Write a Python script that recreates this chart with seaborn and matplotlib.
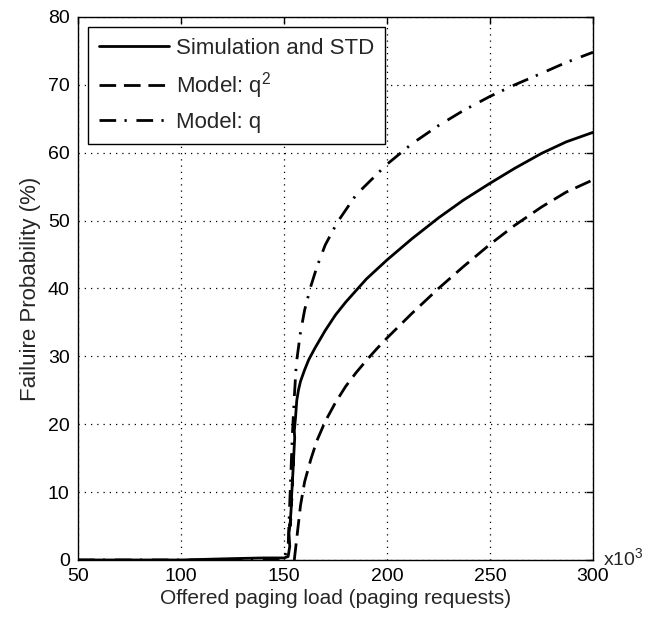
import numpy as np
import pandas as pd
import seaborn as sns
from matplotlib import pyplot as plt
from matplotlib import transforms

# Values (x in thousands of paging requests, y in %)
sim_x = [50, 100, 125, 140, 150, 152, 152.8, 152.4, 153.3, 152.9, 153.8, 153.4, 154.2, 154.0, 154.7,
         154.5, 155.2, 155.0, 155.6, 156.2, 157, 158, 160, 162, 165, 170, 175, 180, 190, 200,
         212, 225, 237, 250, 262, 275, 287, 300]
sim_y = [0, 0, 0.2, 0.3, 0.3, 0.5, 2, 4, 6, 5, 9, 8, 12, 11, 15,
         14, 18, 19, 21, 23.5, 25, 26.3, 28, 29.5, 31.2, 33.8, 36.1, 38, 41.4, 44.2,
         47.3, 50.4, 53, 55.5, 57.7, 59.9, 61.6, 63]

q2_x = [155, 156.5, 158, 160, 163, 166, 170, 175, 180, 185, 190, 195, 200, 212, 225, 237, 250, 262, 275, 287, 300]
q2_y = [0, 4, 8, 11.5, 14.8, 17.6, 20.4, 23.2, 25.6, 27.6, 29.4, 31.1, 32.7, 36.3, 40, 43.2, 46.5, 49.3, 52, 54.2, 56]

q_x = [50, 140, 150, 152, 153, 154, 155, 156, 158, 160, 163, 166, 170, 176, 185, 200, 212, 225, 237,
       250, 262, 275, 287, 300]
q_y = [0, 0, 0.2, 2, 10, 18, 24, 29, 33.5, 36.8, 40.3, 43.2, 46.4, 49.8, 53.8, 58.3, 61.3, 64, 66.2,
       68.3, 70, 71.7, 73.3, 74.8]

x_ticks = [50, 100, 150, 200, 250, 300]
y_ticks = [0, 10, 20, 30, 40, 50, 60, 70, 80]
labels = ["Simulation and STD", "Model: q$^2$", "Model: q"]

sns.set_style("white")
plt.rcParams['font.family'] = ['Liberation Sans', 'DejaVu Sans']
plt.rcParams['mathtext.fontset'] = 'custom'
plt.rcParams['mathtext.rm'] = 'Liberation Sans'
plt.rcParams['mathtext.it'] = 'Liberation Sans'

fig = plt.figure(figsize=(6.51, 6.24), dpi=100)
ax = fig.add_axes([0.1198, 0.1026, 0.7911, 0.8702])

sns.lineplot(x=sim_x, y=sim_y, ax=ax, color='black', lw=2, sort=False, estimator=None,
             label=labels[0])
sns.lineplot(x=q2_x, y=q2_y, ax=ax, color='black', lw=2, linestyle=(0, (6, 2.8)),
             sort=False, estimator=None, label=labels[1])
sns.lineplot(x=q_x, y=q_y, ax=ax, color='black', lw=2, linestyle=(0, (6, 3, 0.8, 3.5)),
             sort=False, estimator=None, label=labels[2])

ax.set_xlim(50, 300)
ax.set_ylim(0, 80)
ax.set_xticks(x_ticks)
ax.set_yticks(y_ticks)
ax.grid(True, color='black', linestyle=(0, (1, 4)), lw=0.9)
ax.tick_params(direction='in', top=True, right=True, length=5, width=1,
               labelsize=14, colors='black')
ax.tick_params(axis='x', pad=6)
ax.tick_params(axis='y', pad=6)
for s in ax.spines.values():
    s.set_color('black')
    s.set_linewidth(1)

ax.set_xlabel("Offered paging load (paging requests)", fontsize=15, labelpad=3)
ax.set_ylabel("Failuire Probability (%)", fontsize=16, labelpad=5)
off = transforms.offset_copy(ax.transAxes, fig=fig, x=10, y=-5, units='dots')
ax.text(1.0, 0.0, "x10$^3$", transform=off, ha='left', va='baseline', fontsize=14)

leg = ax.legend(loc='upper left', fontsize=16, handlelength=3.15, frameon=True,
                fancybox=False, edgecolor='black', framealpha=1,
                borderaxespad=0.45, borderpad=0.5, labelspacing=0.5, handletextpad=0.3)
leg.get_frame().set_linewidth(1)

fig.savefig("out.png", dpi=100)
